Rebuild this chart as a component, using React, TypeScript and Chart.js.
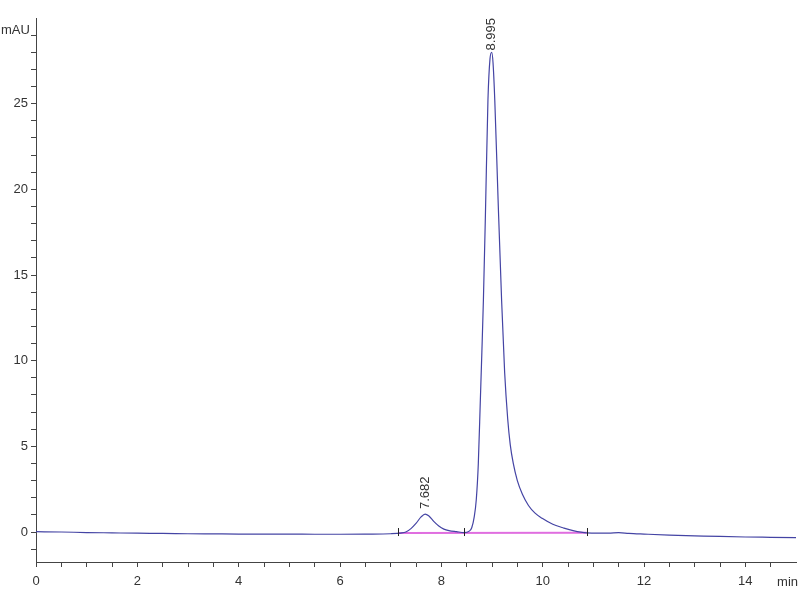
import { useEffect, useRef } from "react"
import { Chart, registerables, ChartConfiguration, Plugin } from "chart.js"

Chart.register(...registerables)

// chromatogram trace (min, mAU)
const retentionTimes = [
  0.0, 0.5, 1.0, 1.5, 2.0, 2.5, 3.0, 3.5, 4.0, 4.5, 5.0, 5.5, 6.0, 6.5, 7.0, 7.2,
  7.3, 7.4, 7.5, 7.6, 7.68, 7.75, 7.85, 7.95, 8.05, 8.15, 8.3, 8.45, 8.55, 8.6,
  8.65, 8.69, 8.73, 8.77, 8.8, 8.83, 8.87, 8.92, 8.96, 8.995, 9.02, 9.055, 9.12,
  9.19, 9.25, 9.31, 9.36, 9.42, 9.5, 9.6, 9.72, 9.85, 9.99, 10.2, 10.4, 10.6,
  10.87, 11.1, 11.3, 11.5, 11.7, 12.0, 12.5, 13.0, 13.5, 14.0, 14.5, 15.0,
]
const absorbance = [
  0.02, 0.0, -0.03, -0.05, -0.07, -0.08, -0.1, -0.11, -0.12, -0.12, -0.12, -0.13,
  -0.13, -0.12, -0.1, -0.06, 0.0, 0.2, 0.5, 0.88, 1.05, 0.95, 0.62, 0.35, 0.17,
  0.08, 0.02, -0.03, 0.05, 0.25, 0.9, 1.9, 4.0, 7.7, 10.5, 13.5, 18.5, 25.2, 27.6,
  28.0, 27.4, 25.2, 19.4, 13.5, 9.3, 6.6, 5.1, 4.0, 3.0, 2.2, 1.55, 1.1, 0.8, 0.45,
  0.25, 0.08, -0.05, -0.06, -0.06, -0.04, -0.08, -0.12, -0.18, -0.22, -0.26,
  -0.29, -0.31, -0.33,
]

// integration baseline
const baselineTimes = [7.15, 10.87]
const baselineValues = [-0.06, -0.05]
const integrationMarks = [7.15, 8.45, 10.87]

// peak annotations
const peakTimes = [7.682, 8.995]
const peakHeights = [1.05, 28.0]
const peakLabels = ["7.682", "8.995"]

const xMajorLabels = ["0", "2", "4", "6", "8", "10", "12", "14"]
const yMajorLabels = ["0", "5", "10", "15", "20", "25"]

const FONT = "'Liberation Sans', Arial, sans-serif"
const TEXT = "#333"
const AXIS = "#444"

const annotations: Plugin = {
  id: "annotations",
  afterDatasetsDraw(chart) {
    const { ctx, chartArea } = chart
    const x = chart.scales.x
    const y = chart.scales.y
    ctx.save()

    // integration start/stop marks
    ctx.strokeStyle = "#222"
    ctx.lineWidth = 1
    integrationMarks.forEach((t) => {
      const px = Math.round(x.getPixelForValue(t)) + 0.5
      const py = y.getPixelForValue(-0.06)
      ctx.beginPath()
      ctx.moveTo(px, py - 5)
      ctx.lineTo(px, py + 3)
      ctx.stroke()
    })

    // rotated retention time labels
    ctx.font = `13px ${FONT}`
    ctx.fillStyle = TEXT
    ctx.textBaseline = "middle"
    ctx.textAlign = "left"
    peakTimes.forEach((t, i) => {
      const px = x.getPixelForValue(t)
      const w = ctx.measureText(peakLabels[i]).width
      let bottom = y.getPixelForValue(peakHeights[i]) - 5
      if (bottom - w < chartArea.top) bottom = chartArea.top + w
      ctx.save()
      ctx.translate(px, bottom)
      ctx.rotate(-Math.PI / 2)
      ctx.fillText(peakLabels[i], 0, 0)
      ctx.restore()
    })

    // axis units
    ctx.textAlign = "left"
    ctx.fillText("mAU", 1, 30)
    ctx.textAlign = "right"
    ctx.fillText("min", 798, 582)
    ctx.restore()
  },
}

export default function App() {
  const canvasRef = useRef<HTMLCanvasElement>(null)
  const chartRef = useRef<Chart | null>(null)

  useEffect(() => {
    if (!canvasRef.current) return
    if (chartRef.current) chartRef.current.destroy()

    const trace = retentionTimes.map((t, i) => ({ x: t, y: absorbance[i] }))
    const baseline = baselineTimes.map((t, i) => ({ x: t, y: baselineValues[i] }))

    const config: ChartConfiguration<"line"> = {
      type: "line",
      data: {
        datasets: [
          {
            data: trace,
            borderColor: "#4444a4",
            borderWidth: 1.2,
            pointRadius: 0,
            cubicInterpolationMode: "monotone",
            order: 0,
          },
          {
            data: baseline,
            borderColor: "#e06ee0",
            borderWidth: 2,
            pointRadius: 0,
            order: 1,
          },
        ],
      },
      options: {
        responsive: true,
        maintainAspectRatio: false,
        animation: false,
        layout: { padding: { top: 18, right: 4, left: 0, bottom: 0 } },
        plugins: {
          legend: { display: false },
          tooltip: { enabled: false },
        },
        scales: {
          x: {
            type: "linear",
            min: 0,
            max: 15,
            afterBuildTicks: (scale) => {
              const ticks = []
              for (let v = 0; v <= 14.5; v += 0.5) ticks.push({ value: v })
              scale.ticks = ticks
            },
            afterFit: (scale) => {
              scale.height = 38
            },
            ticks: {
              autoSkip: false,
              maxRotation: 0,
              padding: 7,
              color: TEXT,
              font: { family: FONT, size: 13 },
              callback: (v) => (xMajorLabels.includes(String(v)) ? String(v) : ""),
            },
            grid: {
              drawOnChartArea: false,
              drawTicks: true,
              tickLength: 5,
              tickColor: AXIS,
            },
            border: { display: true, color: AXIS, width: 1 },
          },
          y: {
            type: "linear",
            min: -1.75,
            max: 30,
            afterBuildTicks: (scale) => {
              const ticks = []
              for (let v = -1; v <= 29; v += 1) ticks.push({ value: v })
              scale.ticks = ticks
            },
            afterFit: (scale) => {
              scale.width = 36
            },
            ticks: {
              autoSkip: false,
              padding: 3,
              color: TEXT,
              font: { family: FONT, size: 13 },
              callback: (v) => (yMajorLabels.includes(String(v)) ? String(v) : ""),
            },
            grid: {
              drawOnChartArea: false,
              drawTicks: true,
              tickLength: 5,
              tickColor: AXIS,
            },
            border: { display: true, color: AXIS, width: 1 },
          },
        },
      },
      plugins: [annotations],
    }

    chartRef.current = new Chart(canvasRef.current, config)

    return () => {
      if (chartRef.current) {
        chartRef.current.destroy()
        chartRef.current = null
      }
    }
  }, [])

  return (
    <div style={{ position: "absolute", left: 0, top: 0, width: "800px", height: "600px", background: "#fff" }}>
      <canvas ref={canvasRef} />
    </div>
  )
}
